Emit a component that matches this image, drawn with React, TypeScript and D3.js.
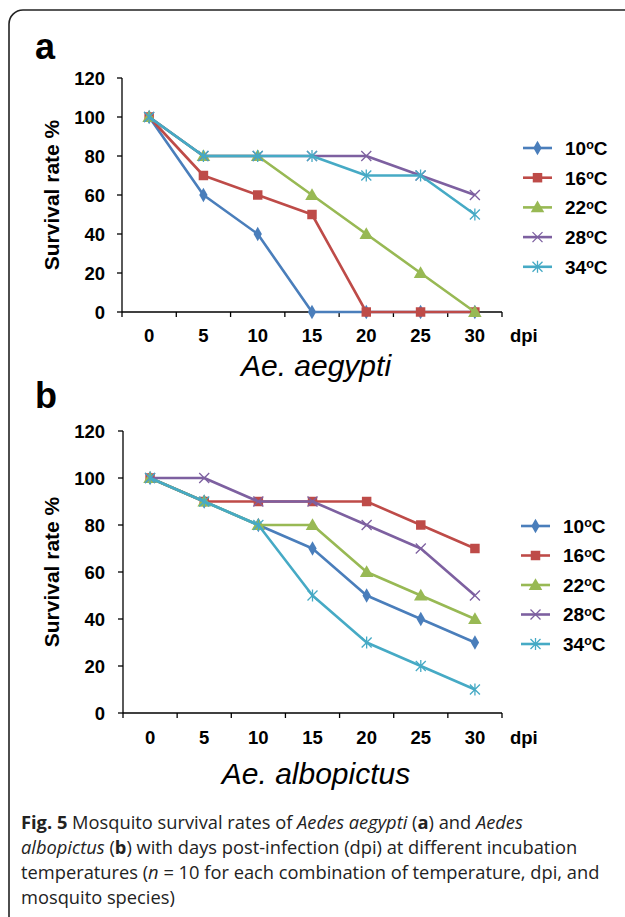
import React from "react";
import * as d3 from "d3";

const days = [0, 5, 10, 15, 20, 25, 30];
const yTicks = [0, 20, 40, 60, 80, 100, 120];
const temps = ["10", "16", "22", "28", "34"];
const colors = ["#4A7EBB", "#BE4B48", "#98B954", "#7D60A0", "#46AAC5"];
const markers = ["diamond", "square", "triangle", "x", "star"];

// Panel a: Ae. aegypti
const aegypti10 = [100, 60, 40, 0, 0, 0, 0];
const aegypti16 = [100, 70, 60, 50, 0, 0, 0];
const aegypti22 = [100, 80, 80, 60, 40, 20, 0];
const aegypti28 = [100, 80, 80, 80, 80, 70, 60];
const aegypti34 = [100, 80, 80, 80, 70, 70, 50];

// Panel b: Ae. albopictus
const albopictus10 = [100, 90, 80, 70, 50, 40, 30];
const albopictus16 = [100, 90, 90, 90, 90, 80, 70];
const albopictus22 = [100, 90, 80, 80, 60, 50, 40];
const albopictus28 = [100, 100, 90, 90, 80, 70, 50];
const albopictus34 = [100, 90, 80, 50, 30, 20, 10];

const FONT = "'Liberation Sans', Arial, sans-serif";

function Marker({ kind, color, x, y }: { kind: string; color: string; x: number; y: number }) {
  if (kind === "diamond") {
    return <path d={d3.symbol(d3.symbolDiamond, 60)()!} transform={`translate(${x},${y})`} fill={color} />;
  }
  if (kind === "square") {
    return <path d={d3.symbol(d3.symbolSquare, 90)()!} transform={`translate(${x},${y})`} fill={color} />;
  }
  if (kind === "triangle") {
    return <path d={d3.symbol(d3.symbolTriangle, 80)()!} transform={`translate(${x},${y + 1})`} fill={color} />;
  }
  if (kind === "x") {
    const s = 5;
    return (
      <path d={`M${-s},${-s}L${s},${s}M${-s},${s}L${s},${-s}`} transform={`translate(${x},${y})`} stroke={color} strokeWidth={1.3} fill="none" />
    );
  }
  const s = 5;
  return (
    <path
      d={`M${-s},${-s}L${s},${s}M${-s},${s}L${s},${-s}M0,${-s - 1}L0,${s + 1}`}
      transform={`translate(${x},${y})`}
      stroke={color}
      strokeWidth={1.3}
      fill="none"
    />
  );
}

function Panel({
  series,
  letter,
  species,
  axisX,
  right,
  top,
  bottom,
  legendY,
  legendStep,
  legendX,
  xLabelY,
  letterY,
  speciesY,
}: {
  series: number[][];
  letter: string;
  species: string;
  axisX: number;
  right: number;
  top: number;
  bottom: number;
  legendY: number;
  legendStep: number;
  legendX: number;
  xLabelY: number;
  letterY: number;
  speciesY: number;
}) {
  const x = d3.scaleBand<number>().domain(days).range([axisX, right]);
  const y = d3.scaleLinear().domain([0, 120]).range([bottom, top]);
  const line = d3
    .line<number>()
    .x((_, i) => x(days[i])! + x.bandwidth() / 2)
    .y((v) => y(v));
  const boundaries = [...days.map((d) => x(d)!), right];
  const midY = (top + bottom) / 2;
  return (
    <g>
      <text x={35} y={letterY} fontFamily={FONT} fontWeight="bold" fontSize={36}>
        {letter}
      </text>
      {/* y axis */}
      <line x1={axisX} x2={axisX} y1={top} y2={bottom} stroke="#000" strokeWidth={1.3} />
      {yTicks.map((t) => (
        <g key={t}>
          <line x1={axisX - 5} x2={axisX} y1={y(t)} y2={y(t)} stroke="#000" strokeWidth={1.3} />
          <text x={105} y={y(t)} dy="0.36em" textAnchor="end" fontFamily={FONT} fontWeight="bold" fontSize={18.5}>
            {t}
          </text>
        </g>
      ))}
      {/* x axis */}
      <line x1={axisX} x2={right} y1={bottom} y2={bottom} stroke="#000" strokeWidth={1.3} />
      {boundaries.map((b, i) => (
        <line key={i} x1={b} x2={b} y1={bottom} y2={bottom + 5} stroke="#000" strokeWidth={1.3} />
      ))}
      {days.map((d) => (
        <text key={d} x={x(d)! + x.bandwidth() / 2} y={xLabelY} textAnchor="middle" fontFamily={FONT} fontWeight="bold" fontSize={18.5}>
          {d}
        </text>
      ))}
      <text x={510} y={xLabelY} fontFamily={FONT} fontWeight="bold" fontSize={18.5}>
        dpi
      </text>
      <text
        transform={`translate(59,${midY}) rotate(-90)`}
        textAnchor="middle"
        fontFamily={FONT}
        fontWeight="bold"
        fontSize={21}
      >
        Survival rate %
      </text>
      <text x={316} y={speciesY} textAnchor="middle" fontFamily={FONT} fontStyle="italic" fontSize={30}>
        {species}
      </text>
      {/* series */}
      {series.map((vals, si) => (
        <g key={si}>
          <path d={line(vals)!} fill="none" stroke={colors[si]} strokeWidth={2.6} strokeLinejoin="round" />
          {vals.map((v, i) => (
            <Marker key={i} kind={markers[si]} color={colors[si]} x={x(days[i])! + x.bandwidth() / 2} y={y(v)} />
          ))}
        </g>
      ))}
      {/* legend */}
      {temps.map((t, i) => {
        const ly = legendY + i * legendStep;
        return (
          <g key={t}>
            <line x1={legendX} x2={legendX + 29} y1={ly} y2={ly} stroke={colors[i]} strokeWidth={2.6} />
            <Marker kind={markers[i]} color={colors[i]} x={legendX + 14.5} y={ly} />
            <text x={legendX + 42} y={ly} dy="0.36em" fontFamily={FONT} fontWeight="bold" fontSize={19}>
              {t}
              <tspan fontSize={12.5} dy="-0.45em">o</tspan>
              <tspan dy="0.3em">C</tspan>
            </text>
          </g>
        );
      })}
    </g>
  );
}

const CAPTION_FONT = "'Open Sans', 'Noto Sans', sans-serif";

export default function App() {
  return (
    <div style={{ position: "absolute", left: 0, top: 0 }}>
      <svg width={625} height={917} viewBox="0 0 625 917" style={{ display: "block", background: "#fff" }}>
        <rect x={9} y={10} width={640} height={930} rx={14} ry={14} fill="none" stroke="#222" strokeWidth={1.6} />
        <Panel
          series={[aegypti10, aegypti16, aegypti22, aegypti28, aegypti34]}
          letter="a"
          species="Ae. aegypti"
          axisX={122}
          right={502}
          top={78}
          bottom={312}
          legendY={148}
          legendStep={29.7}
          legendX={523}
          xLabelY={342}
          letterY={59}
          speciesY={376}
        />
        <Panel
          series={[albopictus10, albopictus16, albopictus22, albopictus28, albopictus34]}
          letter="b"
          species="Ae. albopictus"
          axisX={123}
          right={502}
          top={431}
          bottom={713}
          legendY={526}
          legendStep={29.5}
          legendX={521}
          xLabelY={744}
          letterY={408}
          speciesY={784}
        />
        <g fontFamily={CAPTION_FONT} fontSize={18.3} fill="#222">
          <text x={21} y={829}>
            <tspan fontWeight="bold">Fig. 5</tspan> Mosquito survival rates of <tspan fontStyle="italic">Aedes aegypti</tspan> (
            <tspan fontWeight="bold">a</tspan>) and <tspan fontStyle="italic">Aedes</tspan>
          </text>
          <text x={21} y={854}>
            <tspan fontStyle="italic">albopictus</tspan> (<tspan fontWeight="bold">b</tspan>) with days post-infection (dpi) at different incubation
          </text>
          <text x={21} y={879}>
            temperatures (<tspan fontStyle="italic">n</tspan> = 10 for each combination of temperature, dpi, and
          </text>
          <text x={21} y={904}>mosquito species)</text>
        </g>
      </svg>
    </div>
  );
}
